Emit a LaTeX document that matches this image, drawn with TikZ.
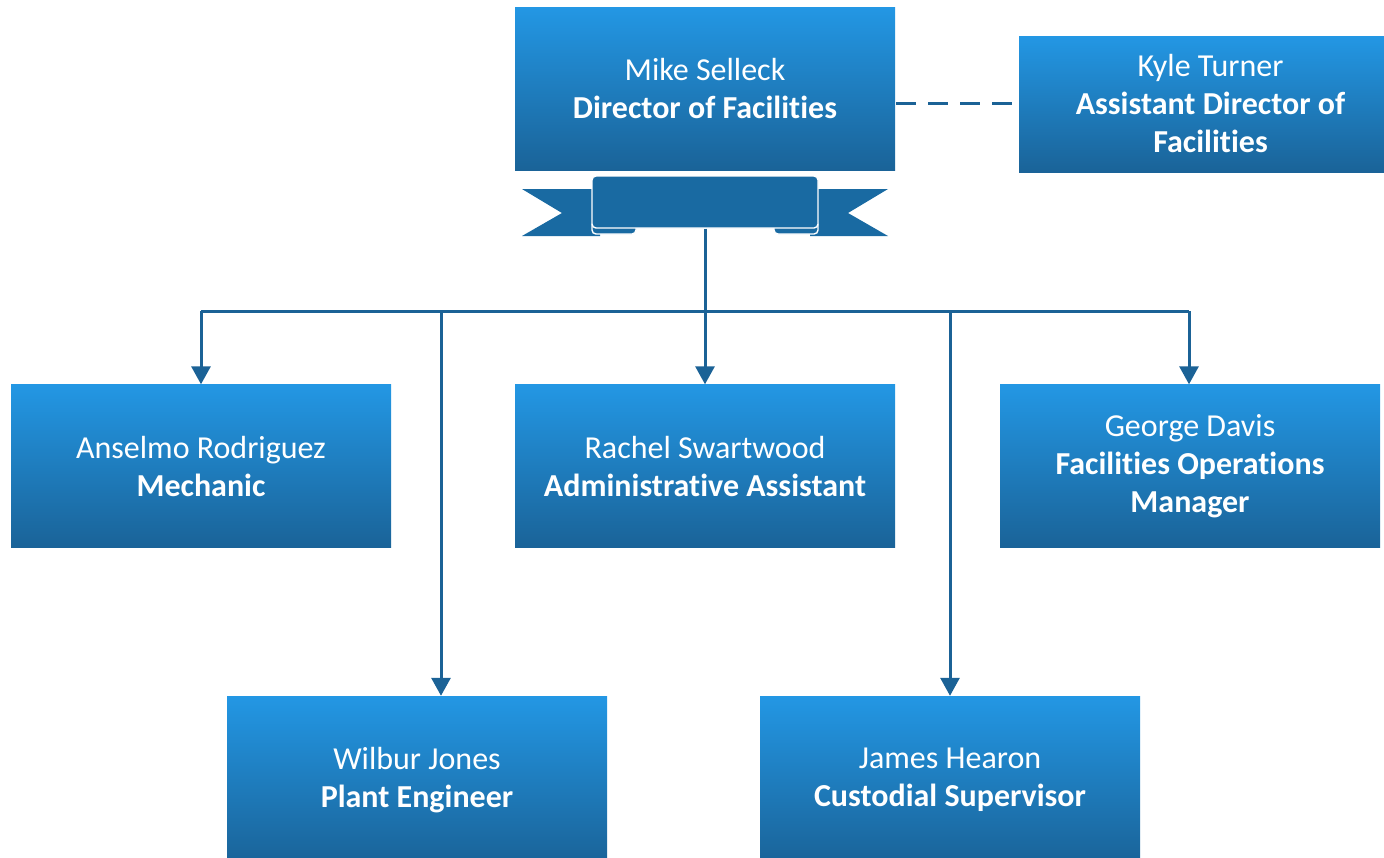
\documentclass[tikz,border=0pt]{standalone}
\usepackage{fontspec}
\setmainfont[Ligatures=NoCommon]{Carlito}
\usetikzlibrary{arrows.meta}
\definecolor{btop}{RGB}{35,151,228}
\definecolor{bbot}{RGB}{26,99,152}
\definecolor{ribc}{RGB}{25,106,162}
\definecolor{linec}{RGB}{27,98,150}
\tikzset{
  box/.style={rectangle, minimum width=380pt, minimum height=163pt, inner sep=0pt,
    top color=btop, bottom color=bbot, text=white, align=center,
    font=\fontsize{32}{38}\selectfont},
  conn/.style={draw=linec, line width=3pt},
  arr/.style={conn, -{Triangle[width=19pt,length=18pt]}},
  dashconn/.style={conn, dash pattern=on 20pt off 12pt},
  ribpart/.style={fill=ribc},
  scrollpart/.style={draw=white, line width=1.4pt, fill=ribc, rounded corners=4pt}
}
\begin{document}
\begin{tikzpicture}[x=1pt,y=-1pt]
\useasboundingbox (0,0) rectangle (1384,857);
% boxes
\node[box] (mike) at (705,88.5) {Mike Selleck\\\textbf{Director of Facilities}};
\node[box, minimum width=383pt, minimum height=136pt] (kyle) at (1210.5,104) {Kyle Turner\\\textbf{Assistant Director of}\\\textbf{Facilities}};
\node[box] (anselmo) at (201,466) {Anselmo Rodriguez\\\textbf{Mechanic}};
\node[box] (rachel) at (705,466) {Rachel Swartwood\\\textbf{Administrative Assistant}};
\node[box] (george) at (1190,466) {George Davis\\\textbf{Facilities Operations}\\\textbf{Manager}};
\node[box, minimum height=168pt] (wilbur) at (417,780) {Wilbur Jones\\\textbf{Plant Engineer}};
\node[box, minimum height=168pt] (james) at (950,780) {James Hearon\\\textbf{Custodial Supervisor}};
% ribbon
\fill[ribpart] (522,189) -- (600,189) -- (600,236) -- (522,236) -- (562,213) -- cycle;
\fill[ribpart] (888,189) -- (810,189) -- (810,236) -- (888,236) -- (848,213) -- cycle;
\filldraw[scrollpart] (592,221) rectangle (636,234);
\filldraw[scrollpart] (774,221) rectangle (818,234);
\node[scrollpart, minimum width=226pt, minimum height=52pt, inner sep=0pt] (scroll) at (705,202) {};
% connectors
\coordinate (busL) at (201,311);
\coordinate (busR) at (1189,311);
\coordinate (busW) at (441,311);
\coordinate (dashA) at (896,103);
\draw[conn] (busL) -- (busR);
\draw[arr] (busL) -- (anselmo.north);
\draw[arr] (busR) -- (busR |- george.north);
\draw[arr] (scroll.south) -- (rachel.north);
\draw[arr] (busW) -- (busW |- wilbur.north);
\draw[arr] (james.north |- busL) -- (james.north);
\draw[dashconn] (dashA) -- (kyle.west |- dashA);
\end{tikzpicture}
\end{document}
